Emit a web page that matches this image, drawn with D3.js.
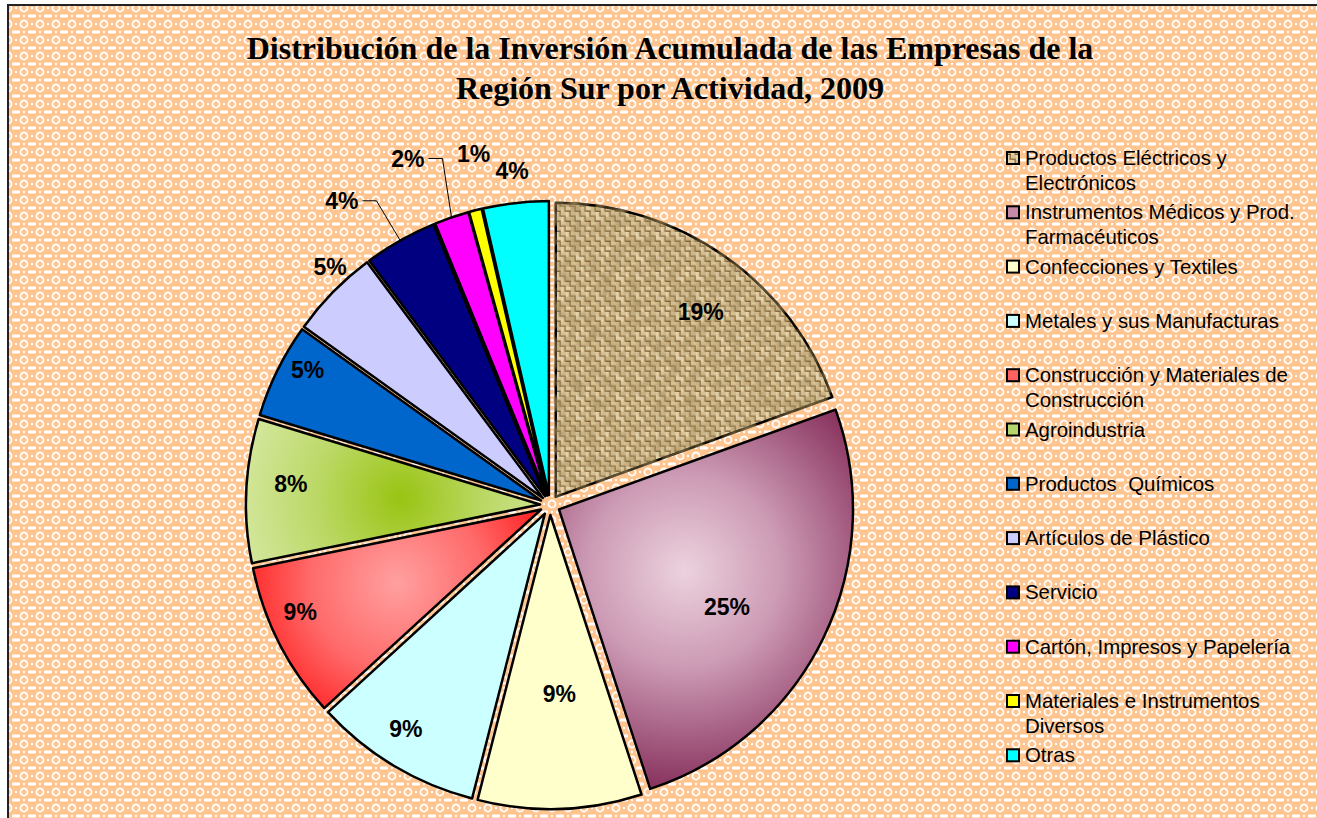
<!doctype html>
<html>
<head>
<meta charset="utf-8">
<title>Distribución de la Inversión Acumulada - Región Sur 2009</title>
<style>
  html, body { margin: 0; padding: 0; background: #fff; }
  svg { display: block; }
  .title { font-family: "Liberation Serif", "Times New Roman", serif; font-weight: bold; font-size: 32px; fill: #000; }
  .pct { font-family: "Liberation Sans", Arial, sans-serif; font-weight: bold; font-size: 23px; fill: #000; }
  .legend text { font-family: "Liberation Sans", Arial, sans-serif; font-size: 20.4px; fill: #000; white-space: pre; }
</style>
</head>
<body>
<svg id="chart"></svg>
<script src="https://d3js.org/d3.v7.min.js"></script>
<script>
// datos
const titleLines = [
  'Distribución de la Inversión Acumulada de las Empresas de la',
  'Región Sur por Actividad, 2009'
];
const categories = [
  'Productos Eléctricos y Electrónicos',
  'Instrumentos Médicos y Prod. Farmacéuticos',
  'Confecciones y Textiles',
  'Metales y sus Manufacturas',
  'Construcción y Materiales de Construcción',
  'Agroindustria',
  'Productos  Químicos',
  'Artículos de Plástico',
  'Servicio',
  'Cartón, Impresos y Papelería',
  'Materiales e Instrumentos Diversos',
  'Otras'
];
const values = [19.49, 25.49, 9.0, 9.22, 8.6, 7.9, 5.2, 4.9, 4.0, 1.9, 0.7, 3.6];

// estilos
const fills = [
  'url(#burlap)', 'url(#gMauve)', '#ffffcc', '#ccffff', 'url(#gRed)', 'url(#gGreen)',
  '#0066cc', '#ccccff', '#000080', '#ff00ff', '#ffff00', '#00ffff'
];
const legendFills = [
  'url(#burlap)', '#c58aa6', '#ffffcc', '#ccffff', '#ff6060', '#b5d66a',
  '#0066cc', '#ccccff', '#000080', '#ff00ff', '#ffff00', '#00ffff'
];
// etiqueta: [factor de radio, desplazamiento angular en grados, con línea guía]
const labelLayout = [
  [0.80, 3, false], [0.66, 4, false], [0.61, -1, false], [0.87, 2, false],
  [0.89, 4, false], [0.85, 2, false], [0.91, 3, false], [1.07, 3, false],
  [1.22, -5, true], [1.24, -3.5, true], [1.19, 2, false], [1.11, 0, false]
];

const W = 1317, H = 818;
const cx = 550, cy = 505, R = 294, explode = 10;

const svg = d3.select('#chart').attr('width', W).attr('height', H);
const defs = svg.append('defs');

// fondo con patrón
const bg = defs.append('pattern').attr('id', 'bg')
  .attr('patternUnits', 'userSpaceOnUse').attr('width', 16).attr('height', 16);
bg.append('rect').attr('width', 16).attr('height', 16).attr('fill', '#ffc590');
bg.append('circle').attr('cx', 8).attr('cy', 8).attr('r', 3.5)
  .attr('fill', 'none').attr('stroke', '#fff').attr('stroke-width', 1.8);
[[0, 0], [16, 0], [0, 16], [16, 16]].forEach(([x, y]) => {
  bg.append('rect').attr('x', x - 4).attr('y', y - 1.5).attr('width', 8).attr('height', 3)
    .attr('rx', 1.2).attr('fill', '#fff');
});
[[8, 0], [8, 16], [0, 8], [16, 8]].forEach(([x, y]) => {
  bg.append('rect').attr('x', x - 1).attr('y', y - 1).attr('width', 2).attr('height', 2).attr('fill', '#fff');
});

// textura de arpillera
const cell = 5, nCells = 8, tile = cell * nCells;
const bur = defs.append('pattern').attr('id', 'burlap')
  .attr('patternUnits', 'userSpaceOnUse').attr('width', tile).attr('height', tile);
bur.append('rect').attr('width', tile).attr('height', tile).attr('fill', '#bb9f70');
const lights = ['#e4d2aa', '#d8c397', '#cfb889', '#e9dab7'];
const darks = ['#7d6338', '#967a4d', '#6a512c', '#8a6e42'];
d3.range(nCells).forEach(i => d3.range(nCells).forEach(j => {
  const x = i * cell, y = j * cell;
  const h = (i * 7 + j * 13 + i * j) % 4;
  if ((i + j) % 2 === 0) {
    bur.append('rect').attr('x', x).attr('y', y).attr('width', cell).attr('height', 3)
      .attr('fill', lights[h]);
    bur.append('rect').attr('x', x).attr('y', y + 4).attr('width', cell).attr('height', 1)
      .attr('fill', darks[h]);
  } else {
    bur.append('rect').attr('x', x).attr('y', y).attr('width', 3).attr('height', cell)
      .attr('fill', lights[(h + 1) % 4]);
    bur.append('rect').attr('x', x + 4).attr('y', y).attr('width', 1).attr('height', cell)
      .attr('fill', darks[(h + 2) % 4]);
  }
}));

// manchas irregulares sobre la arpillera
const rough = defs.append('filter').attr('id', 'rough');
rough.append('feTurbulence').attr('type', 'fractalNoise').attr('baseFrequency', 0.07)
  .attr('numOctaves', 2).attr('seed', 3).attr('result', 'n');
rough.append('feColorMatrix').attr('in', 'n').attr('type', 'matrix')
  .attr('values', '0 0 0 0 0.35  0 0 0 0 0.25  0 0 0 0 0.1  0 0 0 1.3 -0.5')
  .attr('result', 'dark');
rough.append('feComposite').attr('in', 'dark').attr('in2', 'SourceGraphic')
  .attr('operator', 'in').attr('result', 'd2');
const merge = rough.append('feMerge');
merge.append('feMergeNode').attr('in', 'SourceGraphic');
merge.append('feMergeNode').attr('in', 'd2');

// marco
svg.append('rect').attr('x', 8).attr('y', 5).attr('width', W + 100).attr('height', H + 100)
  .attr('fill', 'url(#bg)').attr('stroke', '#222').attr('stroke-width', 2);

// título
svg.append('g').selectAll('text').data(titleLines).join('text')
  .attr('class', 'title')
  .attr('x', 670).attr('y', (d, i) => 59 + i * 40)
  .attr('text-anchor', 'middle')
  .text(d => d);

// tarta
const pie = d3.pie().sort(null).value(d => d);
const arcs = pie(values);
const arc = d3.arc().innerRadius(0).outerRadius(R);
const total = d3.sum(values);
const pctFmt = v => Math.round(v / total * 100) + '%';

function radialDef(id, center, r, stops) {
  const g = defs.append('radialGradient').attr('id', id)
    .attr('gradientUnits', 'userSpaceOnUse')
    .attr('cx', center[0]).attr('cy', center[1]).attr('r', r);
  stops.forEach(([o, c]) => g.append('stop').attr('offset', o).attr('stop-color', c));
}
radialDef('gMauve', d3.arc().innerRadius(0).outerRadius(R * 0.95).centroid(arcs[1]), 215,
  [[0, '#ecd2de'], [0.45, '#cc9ab4'], [1, '#8a3560']]);
radialDef('gRed', d3.arc().innerRadius(0).outerRadius(R * 1.1).centroid(arcs[4]), 175,
  [[0, '#ffa0a0'], [0.5, '#ff6a6a'], [1, '#ff1010']]);
radialDef('gGreen', d3.arc().innerRadius(0).outerRadius(R * 0.95).centroid(arcs[5]), 175,
  [[0, '#99c412'], [0.5, '#bcd968'], [1, '#d8e9a6']]);

const mid = d => (d.startAngle + d.endAngle) / 2;
const off = d => [explode * Math.sin(mid(d)), -explode * Math.cos(mid(d))];

const pieG = svg.append('g').attr('transform', `translate(${cx},${cy})`);
pieG.selectAll('path').data(arcs).join('path')
  .attr('transform', d => `translate(${off(d)[0]},${off(d)[1]})`)
  .attr('d', arc)
  .attr('fill', (d, i) => fills[i])
  .attr('filter', (d, i) => i === 0 ? 'url(#rough)' : null)
  .attr('stroke', '#000').attr('stroke-width', 2.5).attr('stroke-linejoin', 'round');

// etiquetas
const labG = pieG.append('g');
arcs.forEach((d, i) => {
  const [k, shift, leader] = labelLayout[i];
  const a = mid(d) + shift * Math.PI / 180;
  const o = off(d);
  const lx = o[0] + k * R * Math.sin(a), ly = o[1] - k * R * Math.cos(a);
  const t = labG.append('text').attr('class', 'pct')
    .attr('x', lx).attr('y', ly).attr('dy', '0.36em')
    .attr('text-anchor', 'middle').text(pctFmt(d.value));
  if (leader) {
    const w = t.node().getComputedTextLength();
    const x0 = lx + w / 2 + 4;
    const m = mid(d);
    const px = o[0] + R * Math.sin(m), py = o[1] - R * Math.cos(m);
    labG.append('polyline')
      .attr('points', `${x0},${ly} ${x0 + 14},${ly} ${px},${py}`)
      .attr('fill', 'none').attr('stroke', '#000').attr('stroke-width', 1);
  }
});

// leyenda
const legend = svg.append('g').attr('class', 'legend').attr('transform', 'translate(1006,0)');
const maxW = 290, lineH = 25, step = 54.3, base0 = 165;
categories.forEach((name, i) => {
  const y = base0 + i * step;
  legend.append('rect').attr('x', 1).attr('y', y - 13).attr('width', 12).attr('height', 12)
    .attr('fill', legendFills[i]).attr('stroke', '#000').attr('stroke-width', 2);
  const txt = legend.append('text').attr('x', 19).attr('y', y);
  const words = name.split(' ');
  let line = [], ts = txt.append('tspan').attr('x', 19).attr('y', y), ln = 0;
  words.forEach(w => {
    line.push(w);
    ts.text(line.join(' '));
    if (ts.node().getComputedTextLength() > maxW && line.length > 1) {
      line.pop();
      ts.text(line.join(' '));
      line = [w];
      ln++;
      ts = txt.append('tspan').attr('x', 19).attr('y', y + ln * lineH).text(w);
    }
  });
});
</script>
</body>
</html>
